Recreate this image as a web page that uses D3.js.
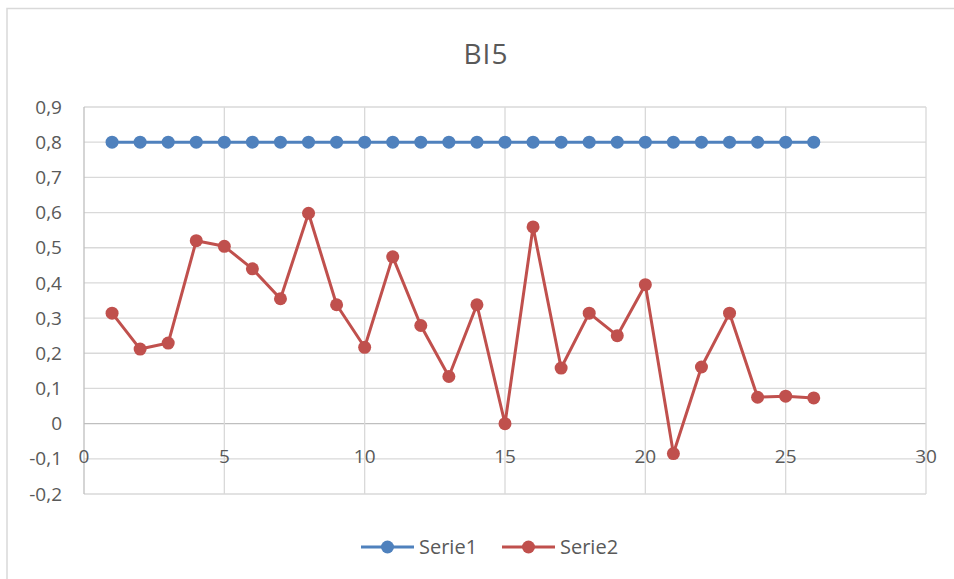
<!DOCTYPE html>
<html>
<head>
<meta charset="utf-8">
<script src="https://cdn.jsdelivr.net/npm/d3@7"></script>
<style>
  body { margin: 0; background: #fff; }
  text { font-family: "Open Sans", sans-serif; fill: #595959; }
</style>
</head>
<body>
<div id="chart"></div>
<script>
const svgWidth = 954;
const svgHeight = 579;

const margin = { top: 107, right: 28, bottom: 85, left: 84 };

const width = svgWidth - margin.left - margin.right;
const height = svgHeight - margin.top - margin.bottom;

// data
const xValues = d3.range(1, 27);
const serie1 = [0.8, 0.8, 0.8, 0.8, 0.8, 0.8, 0.8, 0.8, 0.8, 0.8, 0.8, 0.8, 0.8,
  0.8, 0.8, 0.8, 0.8, 0.8, 0.8, 0.8, 0.8, 0.8, 0.8, 0.8, 0.8, 0.8];
const serie2 = [0.314, 0.212, 0.229, 0.52, 0.504, 0.44, 0.355, 0.598, 0.338, 0.217,
  0.474, 0.279, 0.134, 0.338, 0.0, 0.559, 0.158, 0.314, 0.25, 0.395,
  -0.085, 0.161, 0.314, 0.075, 0.078, 0.073];
const xTicks = [0, 5, 10, 15, 20, 25, 30];
const yTicks = [-0.2, -0.1, 0, 0.1, 0.2, 0.3, 0.4, 0.5, 0.6, 0.7, 0.8, 0.9];
const seriesNames = ["Serie1", "Serie2"];
const colors = ["#4F81BD", "#C0504D"];

const svg = d3.select("#chart")
  .append("svg")
  .attr("width", svgWidth)
  .attr("height", svgHeight);

// chart border
svg.append("path")
  .attr("d", `M7,${svgHeight} V8.5 H${svgWidth}`)
  .attr("fill", "none")
  .attr("stroke", "#D9D9D9")
  .attr("stroke-width", 1.5);

// title
svg.append("text")
  .attr("x", 486)
  .attr("y", 64)
  .attr("text-anchor", "middle")
  .attr("font-size", "28px")
  .attr("letter-spacing", "1px")
  .text("BI5");

const chartGroup = svg.append("g")
  .attr("transform", `translate(${margin.left}, ${margin.top})`);

const xScale = d3.scaleLinear().domain([0, 30]).range([0, width]);
const yScale = d3.scaleLinear().domain([-0.2, 0.9]).range([height, 0]);

const fmt = d => d === 0 ? "0" : d3.format(".1f")(d).replace(".", ",").replace("−", "-");

// horizontal gridlines
chartGroup.append("g")
  .selectAll("line")
  .data(yTicks)
  .join("line")
  .attr("x1", 0)
  .attr("x2", width)
  .attr("y1", d => yScale(d))
  .attr("y2", d => yScale(d))
  .attr("stroke", d => d === 0 ? "#BFBFBF" : "#D9D9D9")
  .attr("stroke-width", 1.3);

// vertical gridlines
chartGroup.append("g")
  .selectAll("line")
  .data(xTicks)
  .join("line")
  .attr("x1", d => xScale(d))
  .attr("x2", d => xScale(d))
  .attr("y1", 0)
  .attr("y2", height)
  .attr("stroke", d => d === 0 ? "#BFBFBF" : "#D9D9D9")
  .attr("stroke-width", 1.3);

// y axis labels
chartGroup.append("g")
  .selectAll("text")
  .data(yTicks)
  .join("text")
  .attr("x", -22)
  .attr("y", d => yScale(d))
  .attr("dy", "0.35em")
  .attr("text-anchor", "end")
  .attr("font-size", "19px")
  .text(fmt);

// x axis labels (sit just below the zero line)
chartGroup.append("g")
  .selectAll("text")
  .data(xTicks)
  .join("text")
  .attr("x", d => xScale(d))
  .attr("y", yScale(0) + 39)
  .attr("text-anchor", "middle")
  .attr("font-size", "19px")
  .text(d => d);

// lines + markers
const line = d3.line()
  .x((d, i) => xScale(xValues[i]))
  .y(d => yScale(d));

[serie1, serie2].forEach((values, k) => {
  chartGroup.append("path")
    .datum(values)
    .attr("fill", "none")
    .attr("stroke", colors[k])
    .attr("stroke-width", 3)
    .attr("stroke-linejoin", "round")
    .attr("d", line);

  chartGroup.append("g")
    .selectAll("circle")
    .data(values)
    .join("circle")
    .attr("cx", (d, i) => xScale(xValues[i]))
    .attr("cy", d => yScale(d))
    .attr("r", 6.5)
    .attr("fill", colors[k]);
});

// legend
const legend = svg.append("g").attr("transform", "translate(361, 547)");
seriesNames.forEach((name, k) => {
  const g = legend.append("g").attr("transform", `translate(${k * 141}, 0)`);
  g.append("line")
    .attr("x1", 0).attr("x2", 53)
    .attr("stroke", colors[k])
    .attr("stroke-width", 3);
  g.append("circle")
    .attr("cx", 26.5)
    .attr("r", 6.5)
    .attr("fill", colors[k]);
  g.append("text")
    .attr("x", 58)
    .attr("dy", "0.35em")
    .attr("font-size", "20px")
    .text(name);
});
</script>
</body>
</html>
